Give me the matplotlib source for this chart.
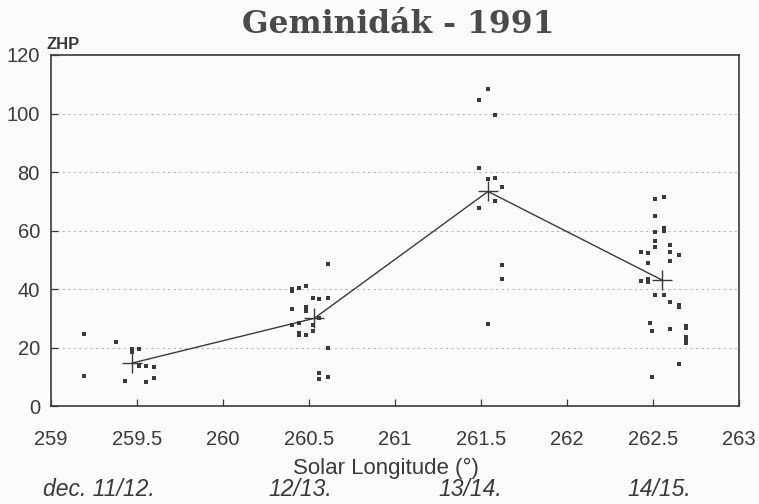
import matplotlib
matplotlib.use("Agg")
import matplotlib.pyplot as plt

# nightly means (ZHP) per night
mean_x = [259.47, 260.53, 261.54, 262.55]
mean_y = [14.8, 30.1, 73.4, 43.2]

# individual observer values
obs_x = [
    259.19, 259.38, 259.47, 259.47, 259.51, 259.51, 259.55, 259.60, 259.19, 259.43, 259.55, 259.60,
    260.61, 260.40, 260.40, 260.44, 260.48, 260.52, 260.56, 260.61, 260.40, 260.48, 260.48, 260.56,
    260.40, 260.44, 260.52, 260.52, 260.44, 260.44, 260.48, 260.61, 260.56, 260.56, 260.61,
    261.54, 261.49, 261.58, 261.49, 261.54, 261.58, 261.62, 261.58, 261.49, 261.62, 261.62, 261.54,
    262.51, 262.56, 262.51, 262.56, 262.56, 262.51, 262.51, 262.51, 262.60, 262.43, 262.47, 262.60,
    262.65, 262.47, 262.60, 262.43, 262.47, 262.47, 262.51, 262.56, 262.60, 262.65, 262.65, 262.48,
    262.49, 262.60, 262.69, 262.69, 262.69, 262.69, 262.69, 262.65, 262.49,
]
obs_y = [
    24.7, 21.9, 19.5, 18.5, 19.5, 13.8, 13.9, 13.4, 10.5, 8.7, 8.4, 9.6,
    48.6, 40.1, 39.4, 40.5, 41.3, 37.2, 36.7, 37.2, 33.3, 33.9, 32.7, 30.3,
    27.9, 28.6, 27.9, 25.9, 25.2, 24.4, 24.3, 19.9, 11.3, 9.4, 10.1,
    108.5, 104.7, 99.4, 81.4, 77.8, 78.0, 74.8, 70.2, 67.9, 48.4, 43.5, 28.1,
    71.0, 71.4, 64.9, 60.9, 60.0, 59.5, 56.6, 54.6, 55.1, 52.9, 52.4, 52.7,
    51.8, 49.0, 49.7, 42.9, 43.5, 42.4, 37.9, 37.9, 35.5, 34.7, 33.9, 28.4,
    25.6, 26.6, 27.6, 26.7, 23.6, 22.7, 21.6, 14.6, 10.1,
]

x_ticks = [259, 259.5, 260, 260.5, 261, 261.5, 262, 262.5, 263]
x_ticklabels = ["259", "259.5", "260", "260.5", "261", "261.5", "262", "262.5", "263"]
y_ticks = [0, 20, 40, 60, 80, 100, 120]
nights = ["dec. 11/12.", "12/13.", "13/14.", "14/15."]
night_pos = [0.056, 0.353, 0.578, 0.826]

ink = "#3a3a3a"
plt.rcParams["font.family"] = ["Liberation Sans", "DejaVu Sans"]

fig = plt.figure(figsize=(7.59, 5.04), dpi=100)
fig.patch.set_facecolor("#fbfbfa")
ax = fig.add_axes([0.0672, 0.1935, 0.9068, 0.6974])
ax.set_facecolor("#fbfbfa")

for v in y_ticks[1:-1]:
    ax.axhline(v, color="#b8b8b8", lw=0.8, ls=(0, (2, 3)), zorder=0)

ax.scatter(obs_x, obs_y, s=6, marker="s", color=ink, linewidths=0, zorder=3)
ax.plot(mean_x, mean_y, color=ink, lw=1.0, marker="+", ms=14, mew=1.0, zorder=4)

ax.set_xlim(259, 263)
ax.set_ylim(0, 120)
ax.set_xticks(x_ticks)
ax.set_xticklabels(x_ticklabels)
ax.set_yticks(y_ticks)
ax.tick_params(direction="in", length=5, width=0.9, colors=ink, labelsize=14.5, pad=17)
ax.tick_params(axis="y", pad=8)
for s in ax.spines.values():
    s.set_color(ink)
    s.set_linewidth(1.2)

ax.set_xlabel("Solar Longitude (°)", fontsize=16, color=ink, labelpad=5)
ax.xaxis.set_label_coords(0.487, -0.145)
ax.text(-0.007, 1.008, "ZHP", transform=ax.transAxes, fontsize=12, color=ink,
        fontweight="bold", ha="left", va="bottom")

fig.text(0.525, 0.952, "Geminidák - 1991", ha="center", va="center", fontsize=22.5,
         fontweight="bold", color="#4a4a4a", family=["DejaVu Serif"])

for lab, px in zip(nights, night_pos):
    fig.text(px, 0.005, lab, ha="left", va="bottom", fontsize=16.5, style="italic", color=ink)

fig.savefig("out.png", dpi=100, facecolor=fig.get_facecolor())
